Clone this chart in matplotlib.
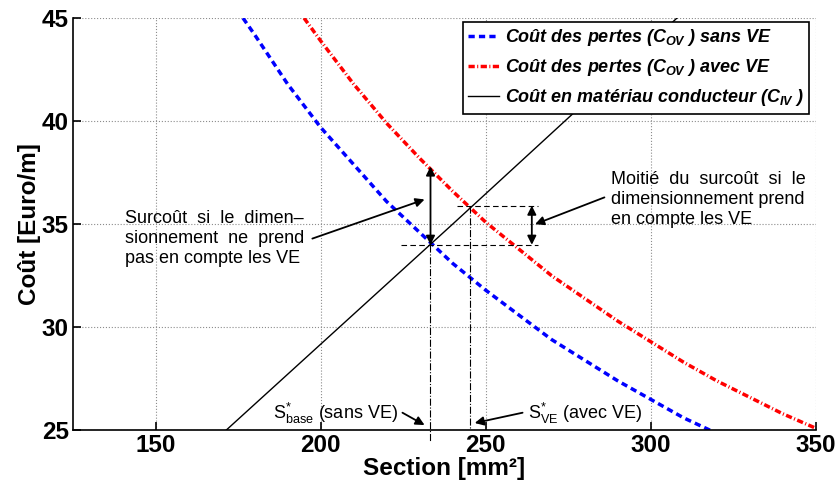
import numpy as np
import matplotlib.pyplot as plt

plt.rcParams['font.family'] = ['Liberation Sans', 'DejaVu Sans']
plt.rcParams['mathtext.fontset'] = 'custom'
plt.rcParams['mathtext.rm'] = 'Liberation Sans'
plt.rcParams['mathtext.it'] = 'Liberation Sans:italic'
plt.rcParams['mathtext.bf'] = 'Liberation Sans:italic:bold'

# values
section_sans = [176.5, 180, 190, 200, 210, 220, 230, 240, 250, 260, 270, 280, 290, 300, 310, 318]
cout_sans = [45.0, 44.2, 41.8, 39.7, 37.9, 36.1, 34.6, 33.1, 31.8, 30.6, 29.4, 28.4, 27.4, 26.5, 25.6, 25.0]

section_avec = [195, 200, 210, 220, 230, 240, 250, 260, 270, 280, 290, 300, 310, 320, 330, 340, 350]
cout_avec = [45.0, 43.9, 41.8, 39.9, 38.2, 36.6, 35.1, 33.8, 32.5, 31.4, 30.3, 29.3, 28.3, 27.4, 26.6, 25.8, 25.1]

section_cond = [170, 240, 310]
cout_cond = [24.8, 35.0, 45.3]

# optimum points
s_base, c_base = 233.3, 34.0
s_ve, c_ve = 245.2, 35.9
c_avec_base = 37.8
s_moitie = 264.0

fig, ax = plt.subplots(figsize=(8.4, 4.9), dpi=100)
fig.subplots_adjust(left=0.087, right=0.971, bottom=0.122, top=0.963)

ax.plot(section_sans, cout_sans, color='b', ls=(0, (1.8, 1.2)), lw=2.5,
        label=r'Coût des pertes ($\mathbf{C_{OV}}$ ) sans VE')
ax.plot(section_avec, cout_avec, color='r', ls=(0, (1.8, 0.7, 0.3, 0.7)), lw=2.5,
        label=r'Coût des pertes ($\mathbf{C_{OV}}$ ) avec VE')
ax.plot(section_cond, cout_cond, color='k', lw=1.0,
        label=r'Coût en matériau conducteur ($\mathbf{C_{IV}}$ )')

# guide lines
ax.plot([224.5, 266], [c_base, c_base], 'k--', lw=0.8, dashes=(5, 3))
ax.plot([241.2, 266], [c_ve, c_ve], 'k--', lw=0.8, dashes=(5, 3))
ax.plot([s_base, s_base], [c_base, 24.5], color='k', ls='-.', lw=0.8, clip_on=False)
ax.plot([s_ve, s_ve], [c_ve, 25], color='k', ls='-.', lw=0.8)

arrow2 = dict(arrowstyle='<|-|>', color='k', lw=1.3, mutation_scale=13, shrinkA=0, shrinkB=0)
arrow1 = dict(arrowstyle='-|>', color='k', lw=1.3, mutation_scale=13, shrinkA=0, shrinkB=0)

# double arrows
ax.annotate('', xy=(s_base, c_avec_base), xytext=(s_base, c_base), arrowprops=arrow2)
ax.annotate('', xy=(s_moitie, c_ve), xytext=(s_moitie, c_base), arrowprops=arrow2)

fs = 13
ax.text(140.6, 34.3, 'Surcoût  si  le  dimen–\nsionnement  ne  prend\npas en compte les VE',
        fontsize=fs, ha='left', va='center', linespacing=1.2)
ax.annotate('', xy=(231.5, 36.2), xytext=(197.5, 34.3), arrowprops=arrow1)

ax.text(287.9, 36.2, 'Moitié  du  surcoût  si  le\ndimensionnement prend\nen compte les VE',
        fontsize=fs, ha='left', va='center', linespacing=1.2)
ax.annotate('', xy=(265.0, 35.0), xytext=(286.0, 36.3), arrowprops=arrow1)

ax.text(223.3, 25.55, r'$\mathrm{S}^{*}_{\mathrm{base}}$ (sans VE)', fontsize=fs,
        ha='right', va='baseline')
ax.annotate('', xy=(231.5, 25.25), xytext=(224.8, 25.85), arrowprops=arrow1)
ax.text(262.7, 25.55, r'$\mathrm{S}^{*}_{\mathrm{VE}}$ (avec VE)', fontsize=fs,
        ha='left', va='baseline')
ax.annotate('', xy=(246.7, 25.35), xytext=(261.2, 25.85), arrowprops=arrow1)

ax.set_xlim(125, 350)
ax.set_ylim(25, 45)
ax.set_xticks([150, 200, 250, 300, 350])
ax.set_yticks([25, 30, 35, 40, 45])
ax.tick_params(direction='in', length=6, width=1.2, labelsize=17.5, pad=3)
for lab in ax.get_xticklabels() + ax.get_yticklabels():
    lab.set_fontweight('bold')
ax.grid(True, ls=':', color='0.55', lw=0.8)
for side in ['top', 'right']:
    ax.spines[side].set_visible(False)
for side in ['left', 'bottom']:
    ax.spines[side].set_linewidth(1.2)

ax.set_xlabel('Section [mm²]', fontsize=17.5, fontweight='bold', labelpad=0)
ax.set_ylabel('Coût [Euro/m]', fontsize=17.5, fontweight='bold', labelpad=1)

leg = ax.legend(loc='upper right', bbox_to_anchor=(809 / 840, 1 - 22 / 490),
                bbox_transform=fig.transFigure, fancybox=False, edgecolor='k',
                framealpha=1, prop=dict(size=13, weight='bold', style='italic'),
                handlelength=1.7, handletextpad=0.3, borderaxespad=0,
                labelspacing=0.5, borderpad=0.3)
leg.get_frame().set_linewidth(1.2)

fig.savefig('out.png', dpi=100)
